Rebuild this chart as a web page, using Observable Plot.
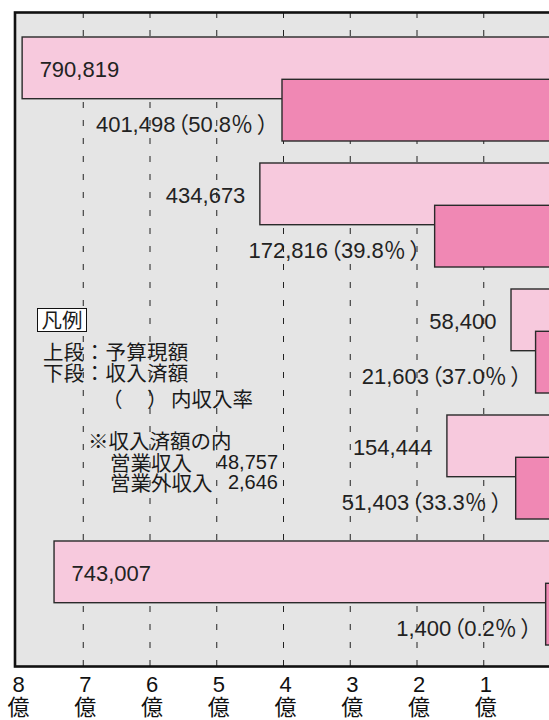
<!DOCTYPE html>
<html><head><meta charset="utf-8">
<script src="https://cdn.jsdelivr.net/npm/d3@7"></script>
<script src="https://cdn.jsdelivr.net/npm/@observablehq/plot@0.6"></script>
<style>
html,body{margin:0;padding:0;background:#fff;overflow:hidden;width:549px;height:720px}
#wrap{position:relative;width:560px;height:720px}
#wrap svg text{font-feature-settings:"palt"}
.lg{position:absolute;font-family:"Noto Sans CJK JP",sans-serif;font-size:20.5px;line-height:20px;color:#1a1a1a;white-space:pre}
.num{font-family:"Liberation Sans","Noto Sans CJK JP",sans-serif;font-size:20px;text-align:right}
.box{border:1.5px solid #111;background:#fff;box-sizing:border-box;text-align:center;line-height:20px}
</style></head><body><div id="wrap"></div>
<script>
// Data (千円)
const groups = ["区分1", "区分2", "区分3", "区分4", "区分5"]; // category names are cropped off in the reference
const budget = [790819, 434673, 58400, 154444, 743007];   // 予算現額
const received = [401498, 172816, 21603, 51403, 1400];    // 収入済額
const rates = [50.8, 39.8, 37.0, 33.3, 0.2];              // 収入率 (%)
const tickValues = [800000, 700000, 600000, 500000, 400000, 300000, 200000, 100000];
const tickLabels = ["8", "7", "6", "5", "4", "3", "2", "1"];
const unitLabel = "億";
const legendTitle = "凡例";
const legendLines = ["上段：予算現額", "下段：収入済額"];
const legendRateParts = ["（", "）", "内収入率"];
const noteTitle = "※収入済額の内";
const noteItems = ["営業収入", "営業外収入"];
const noteValues = [48757, 2646];

// display conventions
const MIN_VISIBLE = 6500;      // tiny bars drawn with a minimum visible width, as in the reference
const INSIDE_MIN = 600000;     // budget labels go inside the bar when it is this long

const rows = groups.map((g, i) => ({group: g, budget: budget[i], received: received[i], rate: rates[i]}));
const fmt = d3.format(",");
const numFont = '"Liberation Sans","Noto Sans CJK JP",sans-serif';
const offset = 42.3;

const chart = Plot.plot({
  width: 560, height: 720,
  marginLeft: 16, marginRight: 10, marginTop: 12, marginBottom: 54,
  style: {background: "transparent", fontFamily: numFont, color: "#222"},
  x: {domain: [800000, 0], axis: null},
  y: {domain: groups, axis: null, type: "band", paddingInner: 0.1715, paddingOuter: 0, insetTop: 24.7, insetBottom: 19.7},
  marks: [
    Plot.frame({fill: "#e5e5e5", stroke: "none", insetLeft: -2}),
    Plot.ruleX(tickValues.slice(1), {stroke: "#222", strokeWidth: 1, strokeDasharray: "6,12"}),
    Plot.barX(rows, {y: "group", x1: 0, x2: "budget", fill: "#f7c9dd", stroke: "#2a2a2a", strokeWidth: 1.4, insetBottom: offset}),
    Plot.barX(rows, {y: "group", x1: 0, x2: d => Math.max(d.received, MIN_VISIBLE), fill: "#f088b4", stroke: "#2a2a2a", strokeWidth: 1.4, insetTop: offset}),
    Plot.text(rows, {filter: d => d.budget >= INSIDE_MIN, y: "group", x: "budget", text: d => fmt(d.budget),
      textAnchor: "start", dx: 17, dy: -19.5, fontSize: 22, fill: "#222"}),
    Plot.text(rows, {filter: d => d.budget < INSIDE_MIN, y: "group", x: "budget", text: d => fmt(d.budget),
      textAnchor: "end", dx: -15, dy: -19.5, fontSize: 22, fill: "#222"}),
    Plot.text(rows, {y: "group", x: d => Math.max(d.received, MIN_VISIBLE),
      text: d => `${fmt(d.received)}\u200A（${d.rate.toFixed(1)}％\u2009）`,
      textAnchor: "end", dx: -14, dy: 35, fontSize: 22, fill: "#222"}),
    Plot.frame({stroke: "#111", strokeWidth: 2.6, insetLeft: -1.5}),
    Plot.text(tickValues, {x: d => d, frameAnchor: "bottom", lineAnchor: "top",
      text: (d, i) => tickLabels[i] + "\n" + unitLabel, dy: 8.4, dx: 2, fontSize: 22, lineHeight: 1.07, fill: "#111"})
  ]
});
const wrap = document.getElementById("wrap");
wrap.appendChild(chart);

function addDiv(text, cls, css) {
  const el = document.createElement("div");
  el.className = cls;
  el.textContent = text;
  Object.assign(el.style, css);
  wrap.appendChild(el);
  return el;
}
addDiv(legendTitle, "lg box", {left: "37px", top: "308px", width: "50px", height: "24px", lineHeight: "21px"});
addDiv(legendLines[0], "lg", {left: "43px", top: "341px", letterSpacing: "0.3px"});
addDiv(legendLines[1], "lg", {left: "43px", top: "362px", letterSpacing: "0.3px"});
addDiv(legendRateParts[0], "lg", {left: "102px", top: "388px"});
addDiv(legendRateParts[1], "lg", {left: "147px", top: "388px"});
addDiv(legendRateParts[2], "lg", {left: "171px", top: "388px"});
addDiv(noteTitle, "lg", {left: "88px", top: "430px"});
noteItems.forEach((t, i) => {
  addDiv(t, "lg", {left: "110px", top: (452 + i * 20) + "px"});
  addDiv(fmt(noteValues[i]), "lg num", {left: "178px", width: "100px", top: (452 + i * 20) + "px"});
});
</script></body></html>
